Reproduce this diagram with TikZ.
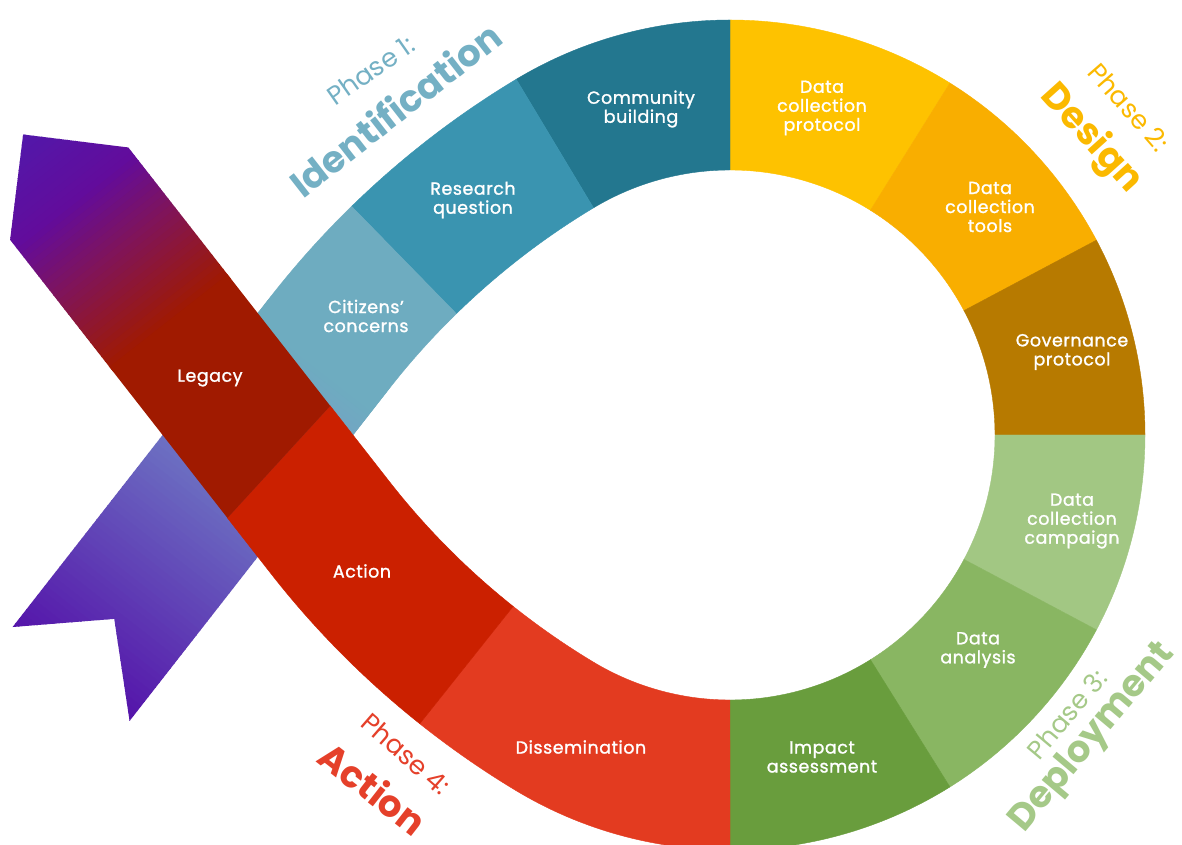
\documentclass[tikz,border=0pt]{standalone}
\usepackage{fontspec}
\setmainfont{Poppins}
\newfontfamily\labfont{Poppins}[LetterSpace=3,FakeBold=1.3]
\usetikzlibrary{calc}
\definecolor{cComm}{HTML}{23778F}
\definecolor{cRes}{HTML}{3A94B0}
\definecolor{cCit}{HTML}{6EACC0}
\definecolor{cLavB}{HTML}{7A98C8}
\definecolor{cLav}{HTML}{6C70C2}
\definecolor{cPur}{HTML}{5514AA}
\definecolor{cDCP}{HTML}{FEC200}
\definecolor{cDCT}{HTML}{F9AE00}
\definecolor{cGov}{HTML}{B77A00}
\definecolor{cCamp}{HTML}{A2C783}
\definecolor{cAna}{HTML}{89B662}
\definecolor{cImp}{HTML}{699D3D}
\definecolor{cDis}{HTML}{E33B20}
\definecolor{cAct}{HTML}{CB2000}
\definecolor{cLeg}{HTML}{A01A00}
\definecolor{cMag}{HTML}{80145A}
\definecolor{cVio}{HTML}{620C9C}
\definecolor{cHead}{HTML}{5218AA}
\definecolor{cP1}{HTML}{74B0C4}
\definecolor{cP2}{HTML}{FBB900}
\definecolor{cP3}{HTML}{A5C988}
\definecolor{cP4}{HTML}{E5402A}
\newcommand\ringseg[3]{\fill[#3,draw=#3,line width=0.4pt] (#1:415) arc[start angle=#1,end angle=#2,radius=415] -- (#2:265) arc[start angle=#2,end angle=#1,radius=265] -- cycle;}
\begin{document}
\begin{tikzpicture}[x=1pt,y=1pt,
  seg/.style={fill=#1,draw=#1,line width=0.4pt},
  lab/.style={text=white,align=center,inner sep=0pt,font=\labfont\fontsize{17.5}{19}\selectfont},
  phs/.style={inner sep=0pt,font=\fontsize{26}{26}\selectfont},
  phb/.style={inner sep=0pt,font=\fontsize{37}{37}\selectfont\bfseries}]
\useasboundingbox (-730,-410) rectangle (452,435);
\fill[white] (-730,-410) rectangle (452,435);
\coordinate (Q1) at (248.763,-414.012);
\coordinate (Q2) at (248.763,414.012);

% ---- right half of the ring
\ringseg{58}{90}{cDCP}
\ringseg{28}{58}{cDCT}
\ringseg{0}{28}{cGov}
\ringseg{-28}{0}{cCamp}
\ringseg{-58}{-28}{cAna}
\ringseg{-90}{-58}{cImp}
\ringseg{90}{121}{cComm}

% ---- upper band (phase 1)
\fill[seg=cRes] (121:415) arc[start angle=121,end angle=134.3,radius=898]
  -- ($(Q1)+(134.3:748)$) arc[start angle=134.3,end angle=121,radius=748] -- cycle;
\fill[seg=cCit] ($(Q1)+(134.3:898)$) arc[start angle=134.3,end angle=142,radius=898]
  -- ($(232:300)+(142:447.1)$) -- ($(232:300)+(142:297.1)$)
  -- ($(Q1)+(142:748)$) arc[start angle=142,end angle=134.3,radius=748] -- cycle;
\begin{scope}
  \clip ($(232:173)+(142:297.1)$) -- ($(232:173)+(142:447.1)$) -- ($(232:300)+(142:447.1)$) -- ($(232:300)+(142:297.1)$) -- cycle;
  \foreach \t in {173,178,...,300}{
    \pgfmathsetmacro\p{max(0,min(100,(\t-200)/90*100))}
    \pgfmathsetmacro\tn{\t+6}
    \fill[cLavB!\p!cCit] ($(232:\t)+(142:290)$) -- ($(232:\tn)+(142:290)$) -- ($(232:\tn)+(142:455)$) -- ($(232:\t)+(142:455)$) -- cycle;
  }
\end{scope}
% tail
\begin{scope}
  \clip ($(232:290)+(142:447.1)$) -- ($(232:593)+(142:447.1)$) -- ($(232:524)+(142:372)$) -- ($(232:595)+(142:297.1)$) -- ($(232:290)+(142:297.1)$) -- cycle;
  \foreach \t in {288,294,...,600}{
    \pgfmathsetmacro\p{max(0,min(100,(\t-350)/(590-350)*100))}
    \pgfmathsetmacro\tn{\t+7}
    \fill[cPur!\p!cLav] ($(232:\t)+(142:290)$) -- ($(232:\tn)+(142:290)$) -- ($(232:\tn)+(142:455)$) -- ($(232:\t)+(142:455)$) -- cycle;
  }
\end{scope}

% ---- lower band (phase 4)
\fill[seg=cDis] (270:415) arc[start angle=270,end angle=239,radius=415] arc[start angle=239,end angle=231.5,radius=898]
  -- ($(Q2)+(231.5:748)$) arc[start angle=231.5,end angle=239,radius=748] arc[start angle=239,end angle=270,radius=265] -- cycle;
\fill[seg=cAct] ($(Q2)+(231.5:898)$) arc[start angle=231.5,end angle=218,radius=898]
  -- ($(128:244)+(218:447.1)$) -- ($(128:269)+(218:297.1)$)
  -- ($(Q2)+(218:748)$) arc[start angle=218,end angle=231.5,radius=748] -- cycle;
\begin{scope}
  \clip ($(128:244)+(218:447.1)$) -- ($(128:597)+(218:447.1)$) -- ($(128:672)+(218:372)$) -- ($(128:597)+(218:297.1)$) -- ($(128:269)+(218:297.1)$) -- cycle;
  \fill[cLeg] ($(128:230)+(218:290)$) -- ($(128:436)+(218:290)$) -- ($(128:436)+(218:455)$) -- ($(128:230)+(218:455)$) -- cycle;
  \foreach \t in {430,436,...,680}{
    \pgfmathsetmacro\tn{\t+7}
    \ifdim\t pt<520pt
      \pgfmathsetmacro\p{(\t-430)/90*100}
      \colorlet{stripc}{cMag!\p!cLeg}
    \else\ifdim\t pt<585pt
      \pgfmathsetmacro\p{(\t-520)/65*100}
      \colorlet{stripc}{cVio!\p!cMag}
    \else
      \pgfmathsetmacro\p{min(100,(\t-585)/85*100)}
      \colorlet{stripc}{cHead!\p!cVio}
    \fi\fi
    \fill[stripc] ($(128:\t)+(218:290)$) -- ($(128:\tn)+(218:290)$) -- ($(128:\tn)+(218:455)$) -- ($(128:\t)+(218:455)$) -- cycle;
  }
\end{scope}

% ---- segment labels
\node[lab] (comm) at (-89,326) {Community\\building};
\node[lab] (res) at (-257,235) {Research\\question};
\node[lab] (cit) at (-364,119) {Citizens’\\concerns};
\node[lab] (leg) at (-520,57) {Legacy};
\node[lab] (act) at (-368,-136) {Action};
\node[lab] (dis) at (-149,-312) {Dissemination};
\node[lab] (imp) at (92,-322) {Impact\\assessment};
\node[lab] (ana) at (248,-215) {Data\\analysis};
\node[lab] (camp) at (342,-86) {Data\\collection\\campaign};
\node[lab] (gov) at (342,83) {Governance\\protocol};
\node[lab] (dct) at (260,228) {Data\\collection\\tools};
\node[lab] (dcp) at (92,327) {Data\\collection\\protocol};

% ---- phase titles
\node[phs,text=cP1,rotate=35] (p1a) at (-359,365) {Phase 1:};
\node[phb,text=cP1,rotate=38] (p1b) at (-335,326) {Identification};
\node[phs,text=cP2,rotate=-49] (p2a) at (399,328) {Phase 2:};
\node[phb,text=cP2,rotate=-48] (p2b) at (361,296) {Design};
\node[phs,text=cP3,rotate=50] (p3a) at (337,-279) {Phase 3:};
\node[phb,text=cP3,rotate=50] (p3b) at (363,-303) {Deployment};
\node[phs,text=cP4,rotate=-41] (p4a) at (-324,-319) {Phase 4:};
\node[phb,text=cP4,rotate=-38] (p4b) at (-357,-353) {Action};
\end{tikzpicture}
\end{document}
